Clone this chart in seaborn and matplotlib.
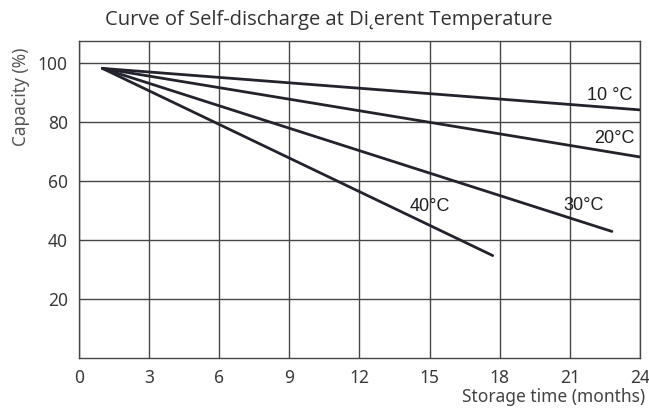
import matplotlib as mpl
import matplotlib.pyplot as plt
import seaborn as sns
import pandas as pd

mpl.use('agg')

'''Self-discharge curves at different storage temperatures'''

# Curve data (each curve is a straight line from a common start point)
temps = ['10 °C', '20°C', '30°C', '40°C']
start_month = 1.0
start_capacity = 98.3
end_month = [24.0, 24.0, 22.8, 17.7]
end_capacity = [84.2, 68.2, 42.9, 34.7]

# Ticks
x_ticks = [0, 3, 6, 9, 12, 15, 18, 21, 24]
y_ticks = [20, 40, 60, 80, 100]

# Where the curve labels sit
label_x = [22.7, 22.9, 21.6, 15.0]
label_y = [89.0, 74.6, 51.7, 51.3]

line_color = '#23232d'
grid_color = '#474747'
text_color = '#3a3a3a'

# Long table for seaborn
rows = []
for t, m, c in zip(temps, end_month, end_capacity):
    rows.append({'Temp': t, 'Month': start_month, 'Capacity': start_capacity})
    rows.append({'Temp': t, 'Month': m, 'Capacity': c})
df = pd.DataFrame(rows)

sns.set_style('white')
plt.rcParams['font.family'] = ['Noto Sans', 'DejaVu Sans']

fig = plt.figure(figsize=(6.49, 4.11), dpi=100)
ax = fig.add_axes([0.1217, 0.1297, 0.8644, 0.7705])

sns.lineplot(data=df, x='Month', y='Capacity', units='Temp', estimator=None,
             color=line_color, linewidth=2.0, ax=ax, legend=False)

for t, lx, ly in zip(temps, label_x, label_y):
    ax.text(lx, ly, t, ha='center', va='center', fontsize=13,
            color='#202020', family='Liberation Sans')

ax.set_xlim(0, 24)
ax.set_ylim(0, 107.6)
ax.set_xticks(x_ticks)
ax.set_yticks(y_ticks)
ax.tick_params(length=0, labelsize=12.5, labelcolor=text_color, pad=8)
ax.grid(True, color=grid_color, linewidth=1.0)
for s in ax.spines.values():
    s.set_visible(True)
    s.set_color(grid_color)
    s.set_linewidth(1.0)

ax.set_xlabel('')
ax.set_ylabel('')
fig.text(0.032, 0.765, 'Capacity (%)', rotation=90, ha='center', va='center',
         fontsize=12.5, color='#555555')
fig.text(0.994, 0.034, 'Storage time (months)', ha='right', va='center',
         fontsize=12.5, color='#444444')
fig.text(0.506, 0.951, 'Curve of Self-discharge at Di\u02dberent Temperature',
         ha='center', va='center', fontsize=14.5, color='#333333',
         family='Open Sans')

fig.savefig('out.png', dpi=100)
